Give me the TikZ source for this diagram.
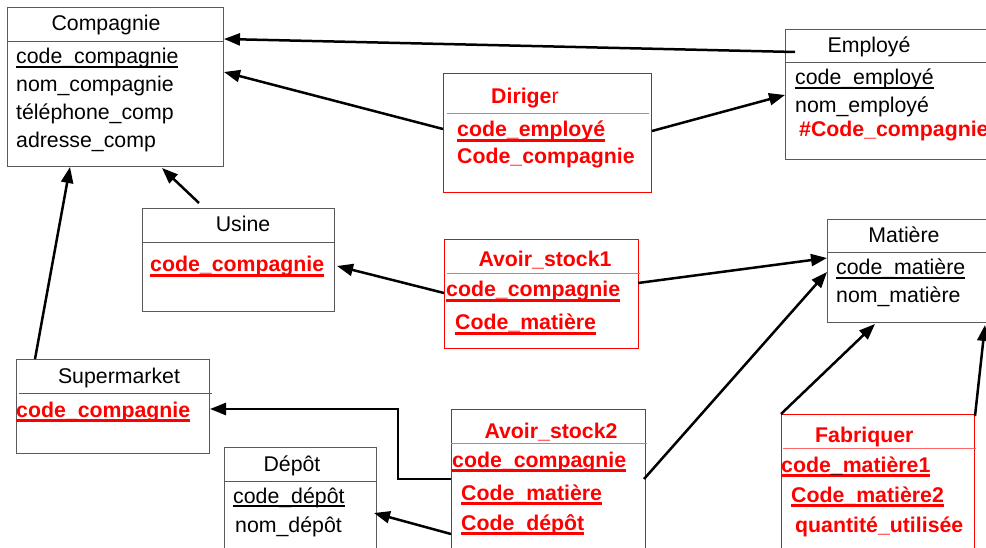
\documentclass[tikz,border=0pt]{standalone}
\usepackage{fontspec}
\setmainfont{Liberation Sans}
\usetikzlibrary{arrows.meta,calc}
\newcommand\myul[1]{\setbox0\hbox{#1}\rlap{\rule[-4pt]{\wd0}{1.6pt}}\box0}
\newcommand\myulb[1]{\setbox0\hbox{#1}\rlap{\rule[-5pt]{\wd0}{3pt}}\box0}
\begin{document}
\begin{tikzpicture}[x=1pt,y=-1pt,
  font=\fontsize{21.3}{25}\selectfont,
  bx/.style={draw=black!65,line width=1pt,anchor=north west,inner sep=0pt},
  rbx/.style={draw=red,line width=1pt,anchor=north west,inner sep=0pt},
  txt/.style={anchor=base west,inner sep=0pt},
  ttl/.style={anchor=base,inner sep=0pt},
  rtxt/.style={anchor=base west,inner sep=0pt,text=red,font=\fontsize{21.3}{25}\selectfont\bfseries},
  dv/.style={draw=black!65,line width=1pt},
  rdv/.style={draw=red!60,line width=1pt},
  arr/.style={draw=black,line width=2.5pt,-{Triangle[length=16pt,width=12pt]}}]
\useasboundingbox (0,0) rectangle (986,548);
\clip (0,0) rectangle (986,548);
\fill[white] (0,0) rectangle (986,548);
% boxes
\node[bx,minimum width=216pt,minimum height=159pt] (comp) at (7,7) {};
\node[bx,minimum width=215pt,minimum height=130pt] (emp) at (785,29) {};
\node[rbx,minimum width=208pt,minimum height=119pt] (dir) at (443,73) {};
\node[bx,minimum width=192pt,minimum height=103pt] (usine) at (142,208) {};
\node[rbx,minimum width=194pt,minimum height=109pt] (as1) at (444,239) {};
\node[bx,minimum width=180pt,minimum height=103pt] (mat) at (827,219) {};
\node[bx,minimum width=193pt,minimum height=94pt] (sup) at (16,359) {};
\node[bx,minimum width=152pt,minimum height=120pt] (dep) at (224,447) {};
\node[rbx,minimum width=194pt,minimum height=150pt] (as2) at (451,409) {};
\node[rbx,minimum width=193pt,minimum height=150pt] (fab) at (781,414) {};
% dividers
\draw[dv] (7,42) -- (223,42);
\draw[dv] (785,63) -- (1000,63);
\draw[rdv] (447,114) -- (649,114);
\draw[dv] (142,243) -- (334,243);
\draw[rdv] (447,274) -- (640,274);
\draw[dv] (827,253) -- (1000,253);
\draw[dv] (19,393) -- (212,393);
\draw[dv] (224,481) -- (376,481);
\draw[rdv] (451,443) -- (647,443);
\draw[rdv] (783,448) -- (976,448);
% Compagnie
\node[ttl] (compT) at (106,31) {Compagnie};
\node[txt] (comp1) at (16,64) {\myul{code\_compagnie}};
\node[txt] (comp2) at (16,92) {nom\_compagnie};
\node[txt] (comp3) at (16,120) {téléphone\_comp};
\node[txt] (comp4) at (16,148) {adresse\_comp};
% Employe
\node[ttl] (empT) at (869,53) {Employé};
\node[txt] (emp1) at (795,85) {\myul{code\_employé}};
\node[txt] (emp2) at (795,113) {nom\_employé};
\node[rtxt] (emp3) at (799,137) {\#Code\_compagnie};
% Diriger
\node[txt,text=red] (dirT) at (491,104) {\textbf{Dirige}r};
\node[rtxt] (dir1) at (457,137) {\myulb{code\_employé}};
\node[rtxt] (dir2) at (457,164) {Code\_compagnie};
% Usine
\node[ttl] (usT) at (243,232) {Usine};
\node[rtxt] (us1) at (150,272) {\myulb{code\_compagnie}};
% Avoir_stock1
\node[ttl,text=red,font=\fontsize{21.3}{25}\selectfont\bfseries] (as1T) at (545,267) {Avoir\_stock1};
\node[rtxt] (as11) at (446,297) {\myulb{code\_compagnie}};
\node[rtxt] (as12) at (455,330) {\myulb{Code\_matière}};
% Matiere
\node[ttl] (matT) at (904,243) {Matière};
\node[txt] (mat1) at (836,275) {\myul{code\_matière}};
\node[txt] (mat2) at (836,302) {nom\_matière};
% Supermarket
\node[ttl] (supT) at (119,383) {Supermarket};
\node[rtxt] (sup1) at (16,417) {\myulb{code\_compagnie}};
% Depot
\node[ttl] (depT) at (292,471) {Dépôt};
\node[txt] (dep1) at (233,503) {\myul{code\_dépôt}};
\node[txt] (dep2) at (235,532) {nom\_dépôt};
% Avoir_stock2
\node[ttl,text=red,font=\fontsize{21.3}{25}\selectfont\bfseries] (as2T) at (551,438) {Avoir\_stock2};
\node[rtxt] (as21) at (452,467) {\myulb{code\_compagnie}};
\node[rtxt] (as22) at (461,500) {\myulb{Code\_matière}};
\node[rtxt] (as23) at (461,530) {\myulb{Code\_dépôt}};
% Fabriquer
\node[rtxt] (fabT) at (815,442) {Fabriquer};
\node[rtxt] (fab1) at (781,472) {\myulb{code{\color{black}\_}matière1}};
\node[rtxt] (fab2) at (791,502) {\myulb{Code\_matière2}};
\node[rtxt] (fab3) at (795,532) {quantité\_utilisée};
% connectors
\draw[arr] ($(emp.north west)+(10,23)$) -- ($(comp.north east)+(0,32)$);
\draw[arr] ($(dir.north west)+(0,56)$) -- ($(comp.north east)+(0,65)$);
\draw[arr] ($(dir.north east)+(0,58)$) -- ($(emp.north west)+(0,66)$);
\draw[arr] ($(usine.north west)+(57,-5)$) -- ($(comp.south west)+(155,1)$);
\draw[arr] ($(sup.north west)+(19,0)$) -- ($(comp.south west)+(63,0)$);
\draw[arr] ($(as1.north west)+(0,54)$) -- ($(usine.north east)+(2,58)$);
\draw[arr] ($(as1.north east)+(-1,44)$) -- ($(mat.north west)+(0,39)$);
\coordinate (bend) at (398,409);
\draw[arr] ($(as2.north west)+(0,70)$) -| (bend) -- (sup.north east |- bend);
\draw[arr] ($(as2.north west)+(0,125)$) -- ($(dep.north east)+(-3,66)$);
\draw[arr] ($(as2.north east)+(-2,70)$) -- ($(mat.north west)+(0,53)$);
\draw[arr] (fab.north west) -- ($(mat.south west)+(48,1)$);
\draw[arr] ($(fab.north east)+(0,2)$) -- ($(mat.south west)+(158,2)$);
\end{tikzpicture}
\end{document}
